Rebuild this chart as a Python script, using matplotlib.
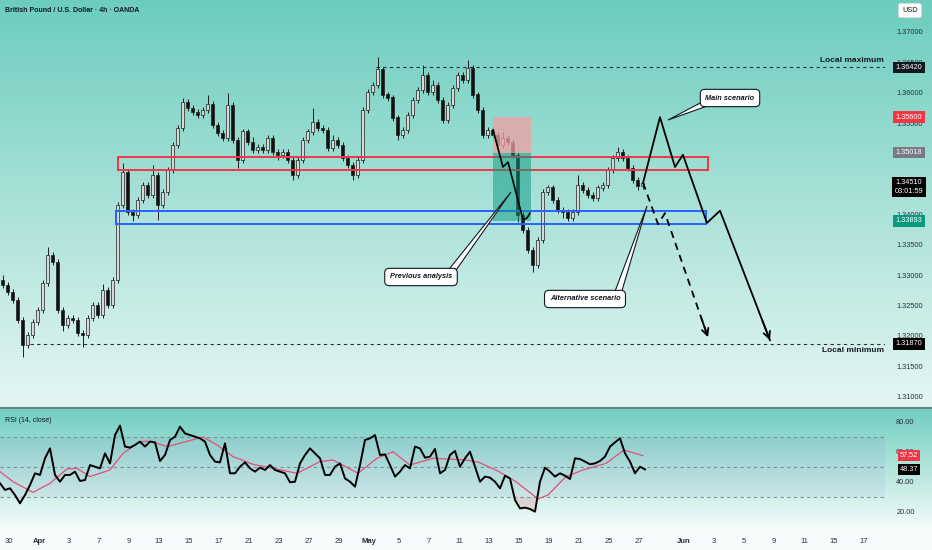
import numpy as np
import matplotlib.pyplot as plt
import matplotlib.transforms as mtransforms
from matplotlib.patches import Rectangle, Polygon
from matplotlib.lines import Line2D

plt.rcParams['font.family'] = ['Liberation Sans', 'DejaVu Sans']

# ---- price data (each candle = two 4h bars)
open0 = 1.3292
closes = [1.3284, 1.3272, 1.3259, 1.3226, 1.3185, 1.3202, 1.3223, 1.3243, 1.3287, 1.3333,
          1.3322, 1.3243, 1.3218, 1.3230, 1.3226, 1.3205, 1.3202, 1.3230, 1.3251, 1.3235,
          1.3276, 1.3251, 1.3292, 1.3415, 1.3470, 1.3404, 1.3399, 1.3424, 1.3448, 1.3432,
          1.3465, 1.3415, 1.3437, 1.3473, 1.3514, 1.3542, 1.3585, 1.3575, 1.3568, 1.3563,
          1.3572, 1.3582, 1.3547, 1.3534, 1.3526, 1.3580, 1.3522, 1.3489, 1.3536, 1.3519,
          1.3506, 1.3510, 1.3506, 1.3526, 1.3503, 1.3498, 1.3503, 1.3489, 1.3465, 1.3489,
          1.3522, 1.3536, 1.3552, 1.3542, 1.3539, 1.3510, 1.3522, 1.3514, 1.3493, 1.3481,
          1.3465, 1.3489, 1.3572, 1.3601, 1.3613, 1.3638, 1.3597, 1.3592, 1.3559, 1.3531,
          1.3539, 1.3563, 1.3588, 1.3605, 1.3629, 1.3601, 1.3613, 1.3588, 1.3555, 1.3580,
          1.3608, 1.3629, 1.3621, 1.3641, 1.3597, 1.3572, 1.3531, 1.3539, 1.3531, 1.3514,
          1.3526, 1.3519, 1.3498, 1.3399, 1.3374, 1.3341, 1.3317, 1.3358, 1.3437, 1.3444,
          1.3424, 1.3407, 1.3404, 1.3394, 1.3404, 1.3448, 1.3440, 1.3432, 1.3427, 1.3444,
          1.3448, 1.3473, 1.3493, 1.3503, 1.3493, 1.3476, 1.3457, 1.3447, 1.3451]
# wick lengths in pips (default 5)
wick_up = {9: 13, 24: 15, 30: 16, 36: 7, 41: 15, 45: 20, 62: 23, 75: 21, 84: 16,
           93: 13, 115: 16, 123: 8, 0: 8, 20: 9, 50: 8, 66: 9, 86: 8, 100: 9}
wick_dn = {4: 20, 16: 20, 31: 25, 47: 12, 58: 8, 70: 8, 103: 12, 106: 12, 127: 7,
           12: 9, 26: 10, 55: 8, 79: 9, 112: 10}

rsi = [39.1, 34.7, 35.8, 31.3, 25.8, 31.3, 38.0, 45.8, 44.7, 55.8,
       62.4, 44.7, 40.2, 44.7, 44.7, 46.9, 40.7, 41.3, 51.3, 50.2,
       49.1, 59.1, 52.4, 71.3, 77.6, 63.6, 62.9, 64.7, 66.9, 63.6,
       66.9, 66.4, 54.0, 58.0, 68.0, 70.2, 76.9, 72.4, 71.3, 70.2,
       69.1, 66.9, 58.0, 53.6, 53.1, 65.8, 45.8, 45.8, 50.2, 53.1,
       49.1, 46.9, 49.6, 48.0, 51.3, 48.0, 46.9, 45.8, 39.8, 40.2,
       52.4, 58.0, 62.4, 59.1, 55.8, 44.7, 44.7, 50.2, 52.4, 42.4,
       40.2, 36.9, 51.3, 68.0, 69.1, 71.3, 58.0, 58.4, 51.3, 43.6,
       46.9, 51.3, 49.1, 63.6, 62.4, 56.2, 56.9, 62.0, 45.8, 48.0,
       58.0, 60.7, 50.2, 55.8, 60.2, 50.2, 40.2, 43.6, 42.9, 40.2,
       35.8, 44.2, 42.4, 28.0, 22.4, 22.9, 22.0, 20.2, 40.2, 49.6,
       46.9, 43.6, 45.8, 44.2, 42.0, 55.8, 55.3, 53.6, 51.8, 52.4,
       54.0, 56.9, 63.6, 66.4, 69.1, 59.1, 53.6, 45.8, 50.2, 48.4]
rsi_ma_t = [-0.6, 0.27, 1.6, 2.73, 3.87, 4.53, 5.4, 6.73, 7.6, 8.73, 9.4, 10.53, 11.6,
            12.93, 13.87, 14.93, 16.27, 17.6, 19.2, 20.73, 21.6, 23.27, 24.53, 25.6,
            26.73, 28.27, 30.47, 31.33, 32.67, 33.8, 35.27, 35.93, 37.13, 38.27, 39.8,
            41.0, 42.27]
rsi_ma = [46.9, 40.2, 33.1, 39.1, 48.7, 49.1, 43.6, 48.0, 59.1, 66.9, 67.3, 63.6, 66.4,
          70.0, 64.7, 56.9, 51.8, 49.1, 45.8, 53.6, 54.7, 45.8, 55.8, 60.2,
          51.3, 55.8, 54.7, 53.1, 46.9, 40.2, 28.7, 31.3, 43.6, 48.0, 52.4,
          61.3, 57.5]

# dates on the axis (trading-day index) and their labels
date_ticks = [0, 2, 4, 6, 8, 10, 12, 14, 16, 18, 20, 22, 24, 26, 28, 30, 32, 34, 36,
              38, 40, 42, 45, 47, 49, 51, 53, 55, 57]
date_labels = ['30', 'Apr', '3', '7', '9', '13', '15', '17', '21', '23', '27', '29',
               'May', '5', '7', '11', '13', '15', '19', '21', '25', '27', 'Jun', '3',
               '5', '9', '11', '15', '17']
price_ticks = [1.31, 1.315, 1.32, 1.325, 1.33, 1.335, 1.34, 1.355, 1.36, 1.365, 1.37]

# levels / zones / drawings
local_max = 1.36420
local_min = 1.31870
red_zone = (1.3473, 1.3494)
blue_zone = (1.3384, 1.3406)
pos_t = (32.27, 34.8)
pos_stop, pos_entry, pos_target = 1.35600, 1.35018, 1.33893
prev_t = [32.27, 32.93, 33.27, 34.27, 34.53, 34.73]
prev_p = [1.3539, 1.3478, 1.3486, 1.3391, 1.3394, 1.3402]
main_t = [42.27, 43.4, 44.4, 44.93, 46.53, 47.4, 50.73]
main_p = [1.3452, 1.3560, 1.3478, 1.3498, 1.3386, 1.3406, 1.3193]
alt_t = [42.27, 43.27, 43.73, 46.6]
alt_p = [1.3452, 1.3384, 1.3402, 1.3198]
last_price = 1.34510
rsi_last, rsi_ma_last = 48.37, 57.52

W, H = 932, 550
fig = plt.figure(figsize=(W / 100, H / 100), dpi=100)

# background gradient
img = np.zeros((H, 1, 3))
top1, bot1 = np.array([108, 205, 190]) / 255, np.array([230, 246, 243]) / 255
top2, bot2 = np.array([112, 206, 192]) / 255, np.array([246, 252, 251]) / 255
for r in range(H):
    if r <= 407:
        f = r / 407
        img[r, 0] = top1 * (1 - f) + bot1 * f
    elif r <= 530:
        f = (r - 408) / 122
        img[r, 0] = top2 * (1 - f) + bot2 * f
    else:
        img[r, 0] = bot2
bg = fig.add_axes([0, 0, 1, 1], zorder=-10)
bg.imshow(img, aspect='auto', extent=[0, 1, 0, 1])
bg.axis('off')

RIGHT = 885
ax = fig.add_axes([0, 143 / H, RIGHT / W, 407 / H])
rx = fig.add_axes([0, 20 / H, RIGHT / W, 122 / H])
for a in (ax, rx):
    a.set_facecolor('none')
    for s in a.spines.values():
        s.set_visible(False)


def tx(px):
    return (px - 9) / 15


def py(px):
    return 1.37 - (px - 32) / 6080


ax.set_xlim(tx(0), tx(RIGHT))
ax.set_ylim(py(407), py(0))
rx.set_xlim(tx(0), tx(RIGHT))
rx.set_ylim(8, 89.33)

# candles
n = len(closes)
c = np.array(closes)
o = np.r_[open0, c[:-1]]
hi = np.maximum(o, c) + np.array([wick_up.get(i, 5) for i in range(n)]) * 1e-4
lo = np.minimum(o, c) - np.array([wick_dn.get(i, 5) for i in range(n)]) * 1e-4
t = (np.arange(n) * 5 - 6.5) / 15
bull = c >= o
ax.vlines(t, lo, hi, color='#1e1e1e', lw=0.7, zorder=3)
ax.bar(t, np.abs(c - o) + 0.00004, bottom=np.minimum(o, c), width=0.19,
       color=np.where(bull, '#d8d8d8', '#111111'), edgecolor='#1e1e1e', linewidth=0.5, zorder=4)

# levels
ax.plot([tx(376), tx(RIGHT)], [local_max] * 2, color='#2a2e39', lw=0.8, dashes=(3, 3), zorder=2)
ax.plot([tx(30), tx(RIGHT)], [local_min] * 2, color='#2a2e39', lw=0.8, dashes=(3, 3), zorder=2)
ax.text(tx(884), py(60), 'Local maximum', ha='right', va='center', fontsize=6, fontweight='bold', color='#131722')
ax.text(tx(884), py(351), 'Local minimum', ha='right', va='center', fontsize=6, fontweight='bold', color='#131722')

# zones
ax.add_patch(Rectangle((tx(118), red_zone[0]), tx(708) - tx(118), red_zone[1] - red_zone[0],
                       fill=False, ec='#f23645', lw=1.4, zorder=5))
ax.add_patch(Rectangle((tx(116), blue_zone[0]), tx(706) - tx(116), blue_zone[1] - blue_zone[0],
                       fill=False, ec='#2962ff', lw=1.4, zorder=5))

# position tool
ax.add_patch(Rectangle((pos_t[0], pos_entry), pos_t[1] - pos_t[0], pos_stop - pos_entry,
                       fc='#f0a0a0', alpha=0.75, ec='none', zorder=5))
ax.add_patch(Rectangle((pos_t[0], pos_target), pos_t[1] - pos_t[0], pos_entry - pos_target,
                       fc='#089981', alpha=0.5, ec='none', zorder=5))

# scenario paths
ax.plot(prev_t, prev_p, color='k', lw=1.2, zorder=6)
ax.plot(main_t, main_p, color='k', lw=1.3, zorder=6)
ax.plot(alt_t, alt_p, color='k', lw=1.3, dashes=(4, 3), zorder=6)
for pt, pp in ((main_t, main_p), (alt_t, alt_p)):
    ax.annotate('', xy=(pt[-1], pp[-1]), xytext=(pt[-1] - (pt[-1] - pt[-2]) * 0.15,
                                                  pp[-1] - (pp[-1] - pp[-2]) * 0.15),
                arrowprops=dict(arrowstyle='->', lw=1.3, color='k', mutation_scale=12,
                                shrinkA=0, shrinkB=0), zorder=6)


def callout(text, cx, cy, base, tip):
    pts = [(tx(base[0][0]), py(base[0][1])), (tx(tip[0]), py(tip[1])), (tx(base[1][0]), py(base[1][1]))]
    ax.add_patch(Polygon(pts, closed=True, fc='white', ec='#131722', lw=0.8, zorder=8))
    ax.text(tx(cx), py(cy), text, ha='center', va='center', fontsize=5.3, fontweight='bold',
            fontstyle='italic', color='#131722', zorder=9,
            bbox=dict(boxstyle='round,pad=0.7,rounding_size=0.6', fc='white', ec='#131722', lw=0.8))


callout('Main scenario', 730, 98, [(706, 100), (710, 105)], (668, 120))
callout('Previous analysis', 421, 277, [(446, 273), (454, 273)], (511, 192))
callout('Alternative scenario', 585, 299, [(614, 294), (621, 294)], (647, 206))

# price axis
ax.set_yticks(price_ticks)
ax.set_yticklabels([f'{v:.5f}' for v in price_ticks])
ax.yaxis.tick_right()
ax.tick_params(axis='y', length=0, pad=8, labelsize=5.3, labelcolor='#2a2e39')
ax.set_xticks([])

blend = mtransforms.blended_transform_factory(ax.transAxes, ax.transData)
xl = 909 / RIGHT
for val, txt, col, fc in [(local_max, '1.36420', 'white', '#131722'),
                          (pos_stop, '1.35600', 'white', '#f23645'),
                          (pos_entry, '1.35018', 'white', '#787b86'),
                          (last_price, '1.34510\n03:01:59', 'white', '#000000'),
                          (pos_target, '1.33893', 'white', '#089981'),
                          (local_min, '1.31870', 'white', '#000000')]:
    yv = val - 0.0006 if '\n' in txt else val
    ax.text(xl, yv, txt, transform=blend, ha='center', va='center', fontsize=5.3, color=col,
            linespacing=1.3, clip_on=False, zorder=10,
            bbox=dict(boxstyle='square,pad=0.3', fc=fc, ec='none'))

# RSI panel
rt = (np.arange(len(rsi)) * 5 - 9) / 15
rx.axhspan(30, 70, color='#7e57c2', alpha=0.07, lw=0)
for lvl in (70, 50, 30):
    rx.axhline(lvl, color='#787b86', lw=0.8, dashes=(3, 3), alpha=0.8)
r = np.array(rsi)
rx.fill_between(rt, r, 30, where=r < 30, color='#f23645', alpha=0.15, lw=0, interpolate=True)
rx.fill_between(rt, r, 70, where=r > 70, color='#089981', alpha=0.15, lw=0, interpolate=True)
rx.plot(rsi_ma_t, rsi_ma, color='#e0507a', lw=0.9, zorder=3)
rx.plot(rt, rsi, color='#000000', lw=1.4, zorder=4)
rx.text(0.006, 0.9, 'RSI (14, close)', transform=rx.transAxes, fontsize=5, color='#131722', va='center')

rx.set_yticks([20, 40, 60, 80])
rx.set_yticklabels(['20.00', '40.00', '60.00', '80.00'])
rx.yaxis.tick_right()
rx.tick_params(axis='y', length=0, pad=8, labelsize=5.3, labelcolor='#2a2e39')
rblend = mtransforms.blended_transform_factory(rx.transAxes, rx.transData)
for val, fc in ((rsi_ma_last, '#f23645'), (rsi_last, '#000000')):
    rx.text(xl, val, f'{val:.2f}', transform=rblend, ha='center', va='center', fontsize=5.3,
            color='white', clip_on=False, zorder=10, bbox=dict(boxstyle='square,pad=0.3', fc=fc, ec='none'))

rx.set_xticks(date_ticks)
rx.set_xticklabels(date_labels)
rx.tick_params(axis='x', length=0, pad=6, labelsize=5.5, labelcolor='#2a2e39')
for lab in rx.get_xticklabels():
    if lab.get_text() in ('Apr', 'May', 'Jun'):
        lab.set_fontweight('bold')

# header and separators
fig.text(5 / W, 1 - 10 / H, 'British Pound / U.S. Dollar · 4h · OANDA', fontsize=5, fontweight='bold',
         color='#131722', va='center')
fig.text(910 / W, 1 - 10.5 / H, 'USD', ha='center', va='center', fontsize=5.3, color='#131722',
         bbox=dict(boxstyle='round,pad=0.5,rounding_size=0.3', fc='white', ec='#d1d4dc', lw=0.6))
fig.add_artist(Line2D([0, 1], [1 - 407.5 / H] * 2, color='#5d8a85', lw=1.5))

fig.savefig('out.png', dpi=100)
